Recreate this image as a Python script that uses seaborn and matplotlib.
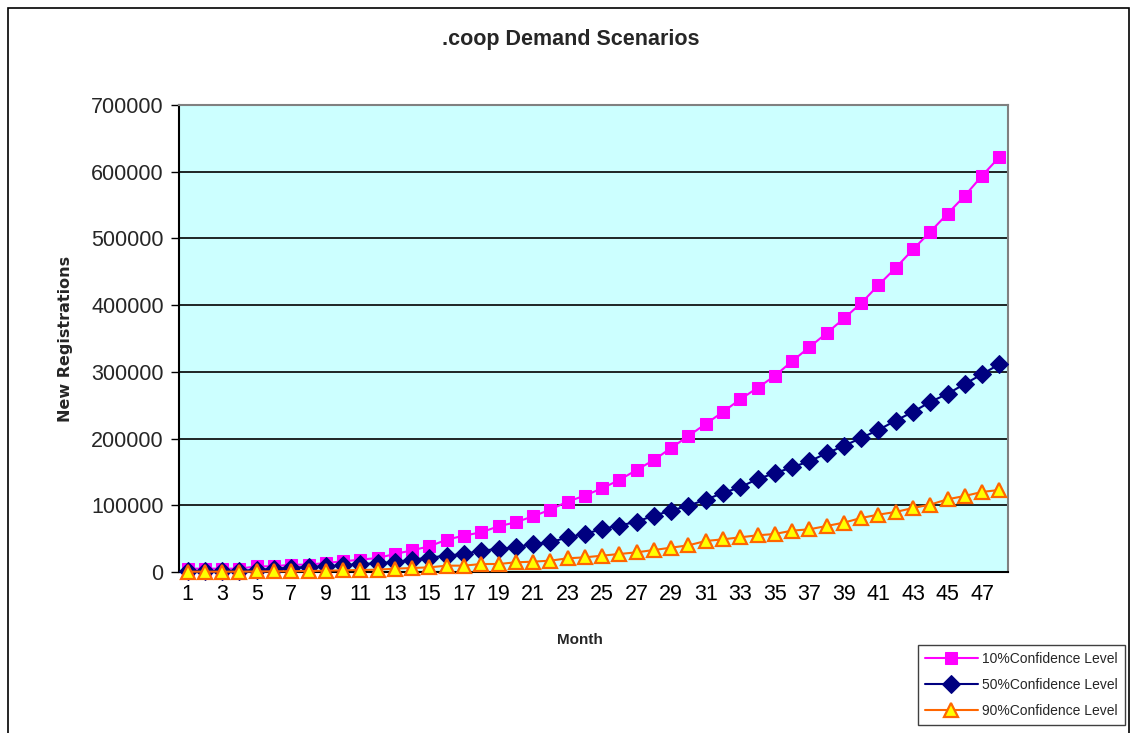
import numpy as np
import pandas as pd
import matplotlib
matplotlib.use("Agg")
import matplotlib.pyplot as plt
from matplotlib.patches import Rectangle
from matplotlib.ticker import FixedLocator, NullFormatter
import seaborn as sns

# Monthly new-registration forecasts for three confidence levels
months = list(range(1, 49))

level_10 = [5000, 5000, 5000, 5000, 8500, 8500, 11000, 11000, 13500, 16000,
            18500, 21000, 27000, 32500, 38500, 48500, 54500, 59500, 68500, 74500,
            83500, 93500, 105500, 114500, 125500, 138000, 153000, 168000, 186000, 204000,
            222000, 240000, 259000, 276000, 294000, 316000, 337000, 358000, 380000, 403000,
            430000, 456000, 483500, 510000, 537000, 564000, 594000, 622000]

level_50 = [1000, 1000, 1500, 2000, 3000, 5000, 6500, 7500, 8500, 10000,
            12000, 13000, 15000, 18500, 21500, 24500, 27000, 32000, 34500, 37000,
            42000, 44500, 52000, 57000, 64500, 69500, 75500, 84500, 92000, 99500,
            108500, 118500, 127000, 139500, 148000, 157000, 166000, 178000, 189000, 201000,
            213000, 227000, 240000, 255000, 267000, 282000, 296500, 311500]

level_90 = [500, 500, 500, 500, 800, 1000, 1200, 1500, 2000, 2500,
            3000, 3500, 5000, 6000, 7000, 9500, 9500, 12000, 12000, 14500,
            15500, 17000, 20500, 22000, 24500, 27000, 29500, 33000, 36500, 40000,
            46500, 49000, 52000, 55000, 57000, 62000, 64000, 69000, 74000, 81000,
            86000, 90000, 96000, 101000, 109000, 114000, 120000, 123000]

series_names = ["10%Confidence Level", "50%Confidence Level", "90%Confidence Level"]
y_ticks = [0, 100000, 200000, 300000, 400000, 500000, 600000, 700000]
x_labels = [m for m in months if m % 2 == 1]

df = pd.DataFrame({
    "Month": months * 3,
    "Registrations": level_10 + level_50 + level_90,
    "Scenario": [series_names[0]] * 48 + [series_names[1]] * 48 + [series_names[2]] * 48,
})

sns.set_style("white")
plt.rcParams["font.family"] = ["Liberation Sans", "DejaVu Sans"]

W, H = 1131, 733
fig = plt.figure(figsize=(W / 100, H / 100), dpi=100)
fig.patch.set_facecolor("white")
ax = fig.add_axes([179 / W, 1 - 572 / H, (1008 - 179) / W, (572 - 105) / H])
ax.set_facecolor("#CCFFFF")

styles = {
    series_names[0]: dict(color="#FF00FF", marker="s", markersize=8.5,
                          markerfacecolor="#FF00FF", markeredgecolor="#FF00FF"),
    series_names[1]: dict(color="#000080", marker="D", markersize=9.0,
                          markerfacecolor="#000080", markeredgecolor="#000080"),
    series_names[2]: dict(color="#FF6600", marker="^", markersize=9.5,
                          markerfacecolor="#FFFF00", markeredgecolor="#FF6600",
                          markeredgewidth=1.6),
}

for name in series_names:
    sub = df[df["Scenario"] == name]
    sns.lineplot(data=sub, x="Month", y="Registrations", ax=ax, label=name,
                 linewidth=1.5, clip_on=False, zorder=3, **styles[name])

# Axes ranges and category-style ticks
ax.set_xlim(0.5, 48.5)
ax.set_ylim(0, 700000)
ax.set_yticks(y_ticks)
ax.set_yticklabels([str(v) for v in y_ticks], fontsize=15.5)
ax.xaxis.set_major_locator(FixedLocator(x_labels))
ax.set_xticklabels([str(m) for m in x_labels], fontsize=15.5)
ax.xaxis.set_minor_locator(FixedLocator(np.arange(0.5, 49, 1.0)))
ax.xaxis.set_minor_formatter(NullFormatter())
ax.tick_params(axis="x", which="major", length=0, pad=9, colors="black")
ax.tick_params(axis="x", which="minor", length=6, width=1, color="black", direction="out")
ax.tick_params(axis="y", which="major", length=6, width=1, color="black",
               direction="out", pad=5, left=True)

ax.yaxis.grid(True, color="black", linewidth=1.2)
ax.xaxis.grid(False)
ax.set_axisbelow(True)

for side in ["top", "right"]:
    ax.spines[side].set_color("#808080")
    ax.spines[side].set_linewidth(1.5)
for side in ["left", "bottom"]:
    ax.spines[side].set_color("black")
    ax.spines[side].set_linewidth(1.5)

ax.set_xlabel("Month", fontsize=11, fontweight="bold")
ax.xaxis.set_label_coords(0.484, -0.13)
ax.set_ylabel("New Registrations", fontsize=11.5, fontweight="bold",
              family=["DejaVu Sans"])
ax.yaxis.set_label_coords(-0.128, 0.5)

ax.get_legend().remove()
handles, labels = ax.get_legend_handles_labels()
leg = fig.legend(handles, labels, loc="upper left",
                 bbox_to_anchor=(918 / W, 1 - 645 / H), borderaxespad=0,
                 fontsize=10, handlelength=3.8, labelspacing=0.85,
                 borderpad=0.5, handletextpad=0.3, fancybox=False,
                 frameon=True, edgecolor="#404040", framealpha=1)
leg.get_frame().set_linewidth(1.0)

fig.text(0.505, 1 - 40 / H, ".coop Demand Scenarios", ha="center", va="center",
         fontsize=15.5, fontweight="bold")

# Outer chart border
fig.patches.append(Rectangle((8 / W, -0.02), (1129 - 8) / W, 1.02 - 8 / H,
                             transform=fig.transFigure, fill=False,
                             edgecolor="black", linewidth=1.2))

fig.savefig("out.png", dpi=100)
